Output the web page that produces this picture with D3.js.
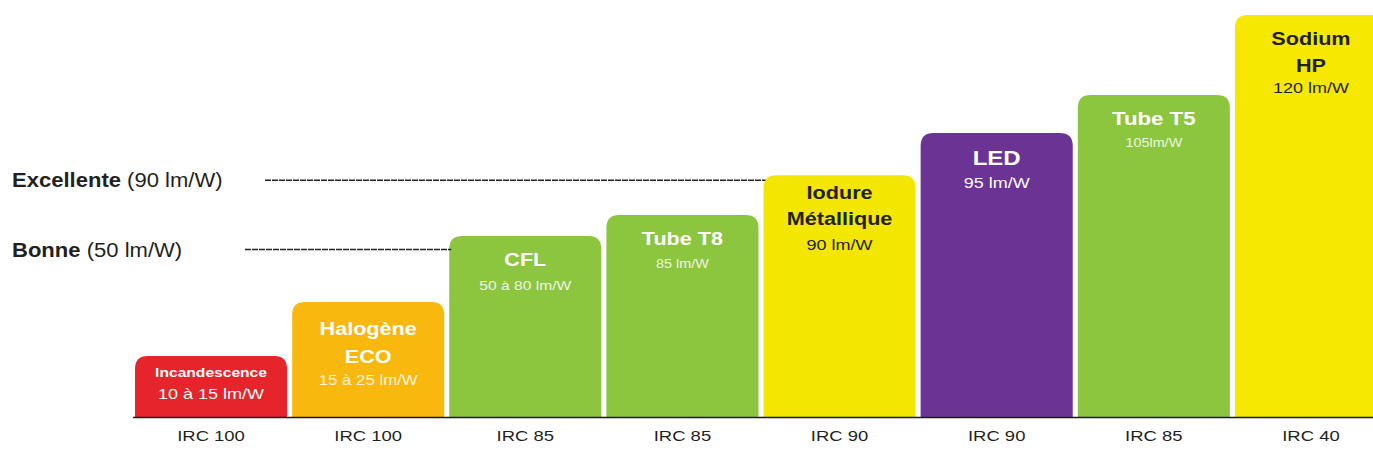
<!DOCTYPE html>
<html>
<head>
<meta charset="utf-8">
<script src="https://cdn.jsdelivr.net/npm/d3@7/dist/d3.min.js"></script>
<style>
  html, body { margin: 0; padding: 0; background: #ffffff; overflow: hidden; }
  svg { display: block; font-family: "Liberation Sans", Arial, Helvetica, sans-serif; }
</style>
</head>
<body>
<svg id="chart" width="1373" height="471"></svg>
<script>
// ---------- DATA ----------
const categories = ["Incandescence", "Halogène ECO", "CFL", "Tube T8", "Iodure Métallique", "LED", "Tube T5", "Sodium HP"];
const titleLines = [["Incandescence"], ["Halogène", "ECO"], ["CFL"], ["Tube T8"], ["Iodure", "Métallique"], ["LED"], ["Tube T5"], ["Sodium", "HP"]];
const efficacyText = ["10 à 15 lm/W", "15 à 25 lm/W", "50 à 80 lm/W", "85 lm/W", "90 lm/W", "95 lm/W", "105lm/W", "120 lm/W"];
const ircLabels = ["IRC 100", "IRC 100", "IRC 85", "IRC 85", "IRC 90", "IRC 90", "IRC 85", "IRC 40"];
// bar heights as drawn (relative scale 0–120)
const barLevels = [18.2, 34.3, 54.0, 60.3, 72.2, 84.8, 96.1, 120];

const refNames = ["Excellente", "Bonne"];
const refValues = ["(90 lm/W)", "(50 lm/W)"];
const refLevels = [70.7, 50.0];
const refTargets = ["Iodure Métallique", "CFL"];

// ---------- STYLE ----------
const barColors = ["#e5242b", "#f8b80e", "#8cc63e", "#8cc63e", "#f3e600", "#6b3393", "#8cc63e", "#f7e800"];
const textColors = ["#ffffff", "#ffffff", "#ffffff", "#ffffff", "#231f20", "#ffffff", "#ffffff", "#231f20"];
const titleSize = [13, 18, 18, 18, 18, 20, 18.5, 18];
const titleOffset = [21, 33, 30, 30, 24, 32, 30, 30];
const titleGap = [0, 28, 0, 0, 26, 0, 0, 27];
const subSize = [15, 14, 13, 12, 15, 15, 12, 15];
const subGap = [22, 22, 24, 23, 25, 23, 22, 21];
const subOpacity = [1, 0.85, 0.85, 0.85, 1, 1, 0.85, 1];
const refLineStart = [265, 245];
const STRETCH = 1.2;

const svg = d3.select("#chart");

const x = d3.scaleBand().domain(categories).range([135, 1387]).paddingInner(0.032).paddingOuter(0);
const y = d3.scaleLinear().domain([0, 120]).range([417, 15]);

function stretch(sel, k) {
  sel.each(function () {
    const w = this.getComputedTextLength();
    d3.select(this).attr("textLength", w * k).attr("lengthAdjust", "spacingAndGlyphs");
  });
}

function topRounded(x0, y0, w, h, r) {
  const p = d3.path();
  p.moveTo(x0, y0 + h);
  p.lineTo(x0, y0 + r);
  p.quadraticCurveTo(x0, y0, x0 + r, y0);
  p.lineTo(x0 + w - r, y0);
  p.quadraticCurveTo(x0 + w, y0, x0 + w, y0 + r);
  p.lineTo(x0 + w, y0 + h);
  p.closePath();
  return p.toString();
}

// Bars
svg.append("g").selectAll("path")
  .data(categories)
  .join("path")
  .attr("d", (c, i) => topRounded(x(c), y(barLevels[i]), x.bandwidth(), y(0) - y(barLevels[i]), 13))
  .attr("fill", (c, i) => barColors[i]);

// Baseline
svg.append("line")
  .attr("x1", 133).attr("x2", 1373)
  .attr("y1", y(0) + 0.5).attr("y2", y(0) + 0.5)
  .attr("stroke", "#1a1a1a").attr("stroke-width", 1.6);

// Reference lines + labels
refNames.forEach((name, i) => {
  const ly = y(refLevels[i]);
  svg.append("line")
    .attr("x1", refLineStart[i]).attr("x2", x(refTargets[i]) + 2)
    .attr("y1", ly).attr("y2", ly)
    .attr("stroke", "#222222").attr("stroke-width", 1.5)
    .attr("stroke-dasharray", "6,1");
  const t = svg.append("text")
    .attr("x", 12).attr("y", ly + 7)
    .attr("font-size", 19.5).attr("fill", "#231f20");
  t.append("tspan").attr("font-weight", "bold").text(name + " ");
  t.append("tspan").text(refValues[i]);
  stretch(t, 1.13);
});

// Bar labels
categories.forEach((c, i) => {
  const cx = x(c) + x.bandwidth() / 2;
  const top = y(barLevels[i]);
  let by = top + titleOffset[i];
  titleLines[i].forEach((line, j) => {
    if (j > 0) by += titleGap[i];
    const t = svg.append("text")
      .attr("x", cx).attr("y", by)
      .attr("text-anchor", "middle")
      .attr("font-weight", "bold")
      .attr("font-size", titleSize[i])
      .attr("fill", textColors[i])
      .text(line);
    stretch(t, STRETCH);
  });
  const s = svg.append("text")
    .attr("x", cx).attr("y", by + subGap[i])
    .attr("text-anchor", "middle")
    .attr("font-size", subSize[i])
    .attr("fill", textColors[i])
    .attr("opacity", subOpacity[i])
    .text(efficacyText[i]);
  stretch(s, STRETCH);

  const irc = svg.append("text")
    .attr("x", cx).attr("y", 441)
    .attr("text-anchor", "middle")
    .attr("font-size", 15)
    .attr("fill", "#231f20")
    .text(ircLabels[i]);
  stretch(irc, 1.23);
});
</script>
</body>
</html>
